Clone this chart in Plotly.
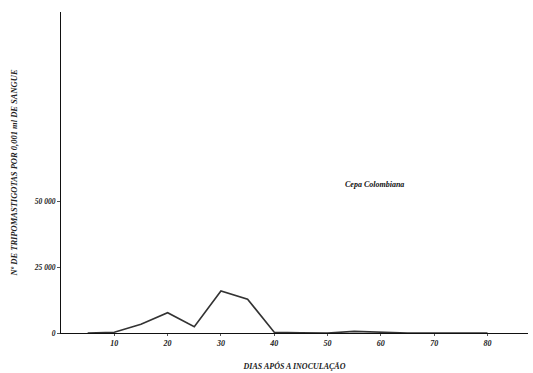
import plotly.graph_objects as go

days = [5, 10, 15, 20, 25, 30, 35, 40, 45, 50, 55, 60, 65, 70, 75, 80]
parasites = [0, 300, 3300, 7700, 2400, 15900, 12800, 300, 100, 0, 600, 200, 0, 0, 0, 0]
x_ticks = [10, 20, 30, 40, 50, 60, 70, 80]
y_ticks = [0, 25000, 50000]
y_tick_labels = ["0", "25 000", "50 000"]

font_fam = "Liberation Serif"

fig = go.Figure()
fig.add_trace(go.Scatter(x=days, y=parasites, mode="lines",
                         line=dict(color="#333333", width=1.6),
                         showlegend=False, hoverinfo="skip"))

fig.add_annotation(x=58.8, y=56400, text="<i><b>Cepa Colombiana</b></i>", showarrow=False,
                   font=dict(family=font_fam, size=8, color="#111111"))

fig.update_layout(
    width=533, height=373,
    margin=dict(l=61, r=5, t=12, b=40),
    paper_bgcolor="white", plot_bgcolor="white",
    font=dict(family=font_fam, color="#111111"),
    xaxis=dict(range=[0, 87.6], tickvals=x_ticks,
               ticktext=["<b><i>%d</i></b>" % t for t in x_ticks],
               showgrid=False, zeroline=False, showline=True, linecolor="#111111", linewidth=1.2,
               ticks="outside", ticklen=2, tickcolor="#555555",
               tickfont=dict(family=font_fam, size=8, color="#222222"),
               title=dict(text="<i><b>DIAS APÓS A INOCULAÇÃO</b></i>",
                          font=dict(family=font_fam, size=8, color="#222222"), standoff=16)),
    yaxis=dict(range=[0, 121600], tickvals=y_ticks,
               ticktext=["<b><i>%s</i></b>" % s for s in y_tick_labels],
               showgrid=False, zeroline=False, showline=True, linecolor="#111111", linewidth=1.2,
               ticks="outside", ticklen=3, tickcolor="#555555",
               tickfont=dict(family=font_fam, size=7.5, color="#222222"),
               title=dict(text="<i><b>Nº DE TRIPOMASTIGOTAS POR 0,001 ml DE SANGUE</b></i>",
                          font=dict(family=font_fam, size=8.5, color="#222222"), standoff=14)),
)

fig.write_html("out.html")
